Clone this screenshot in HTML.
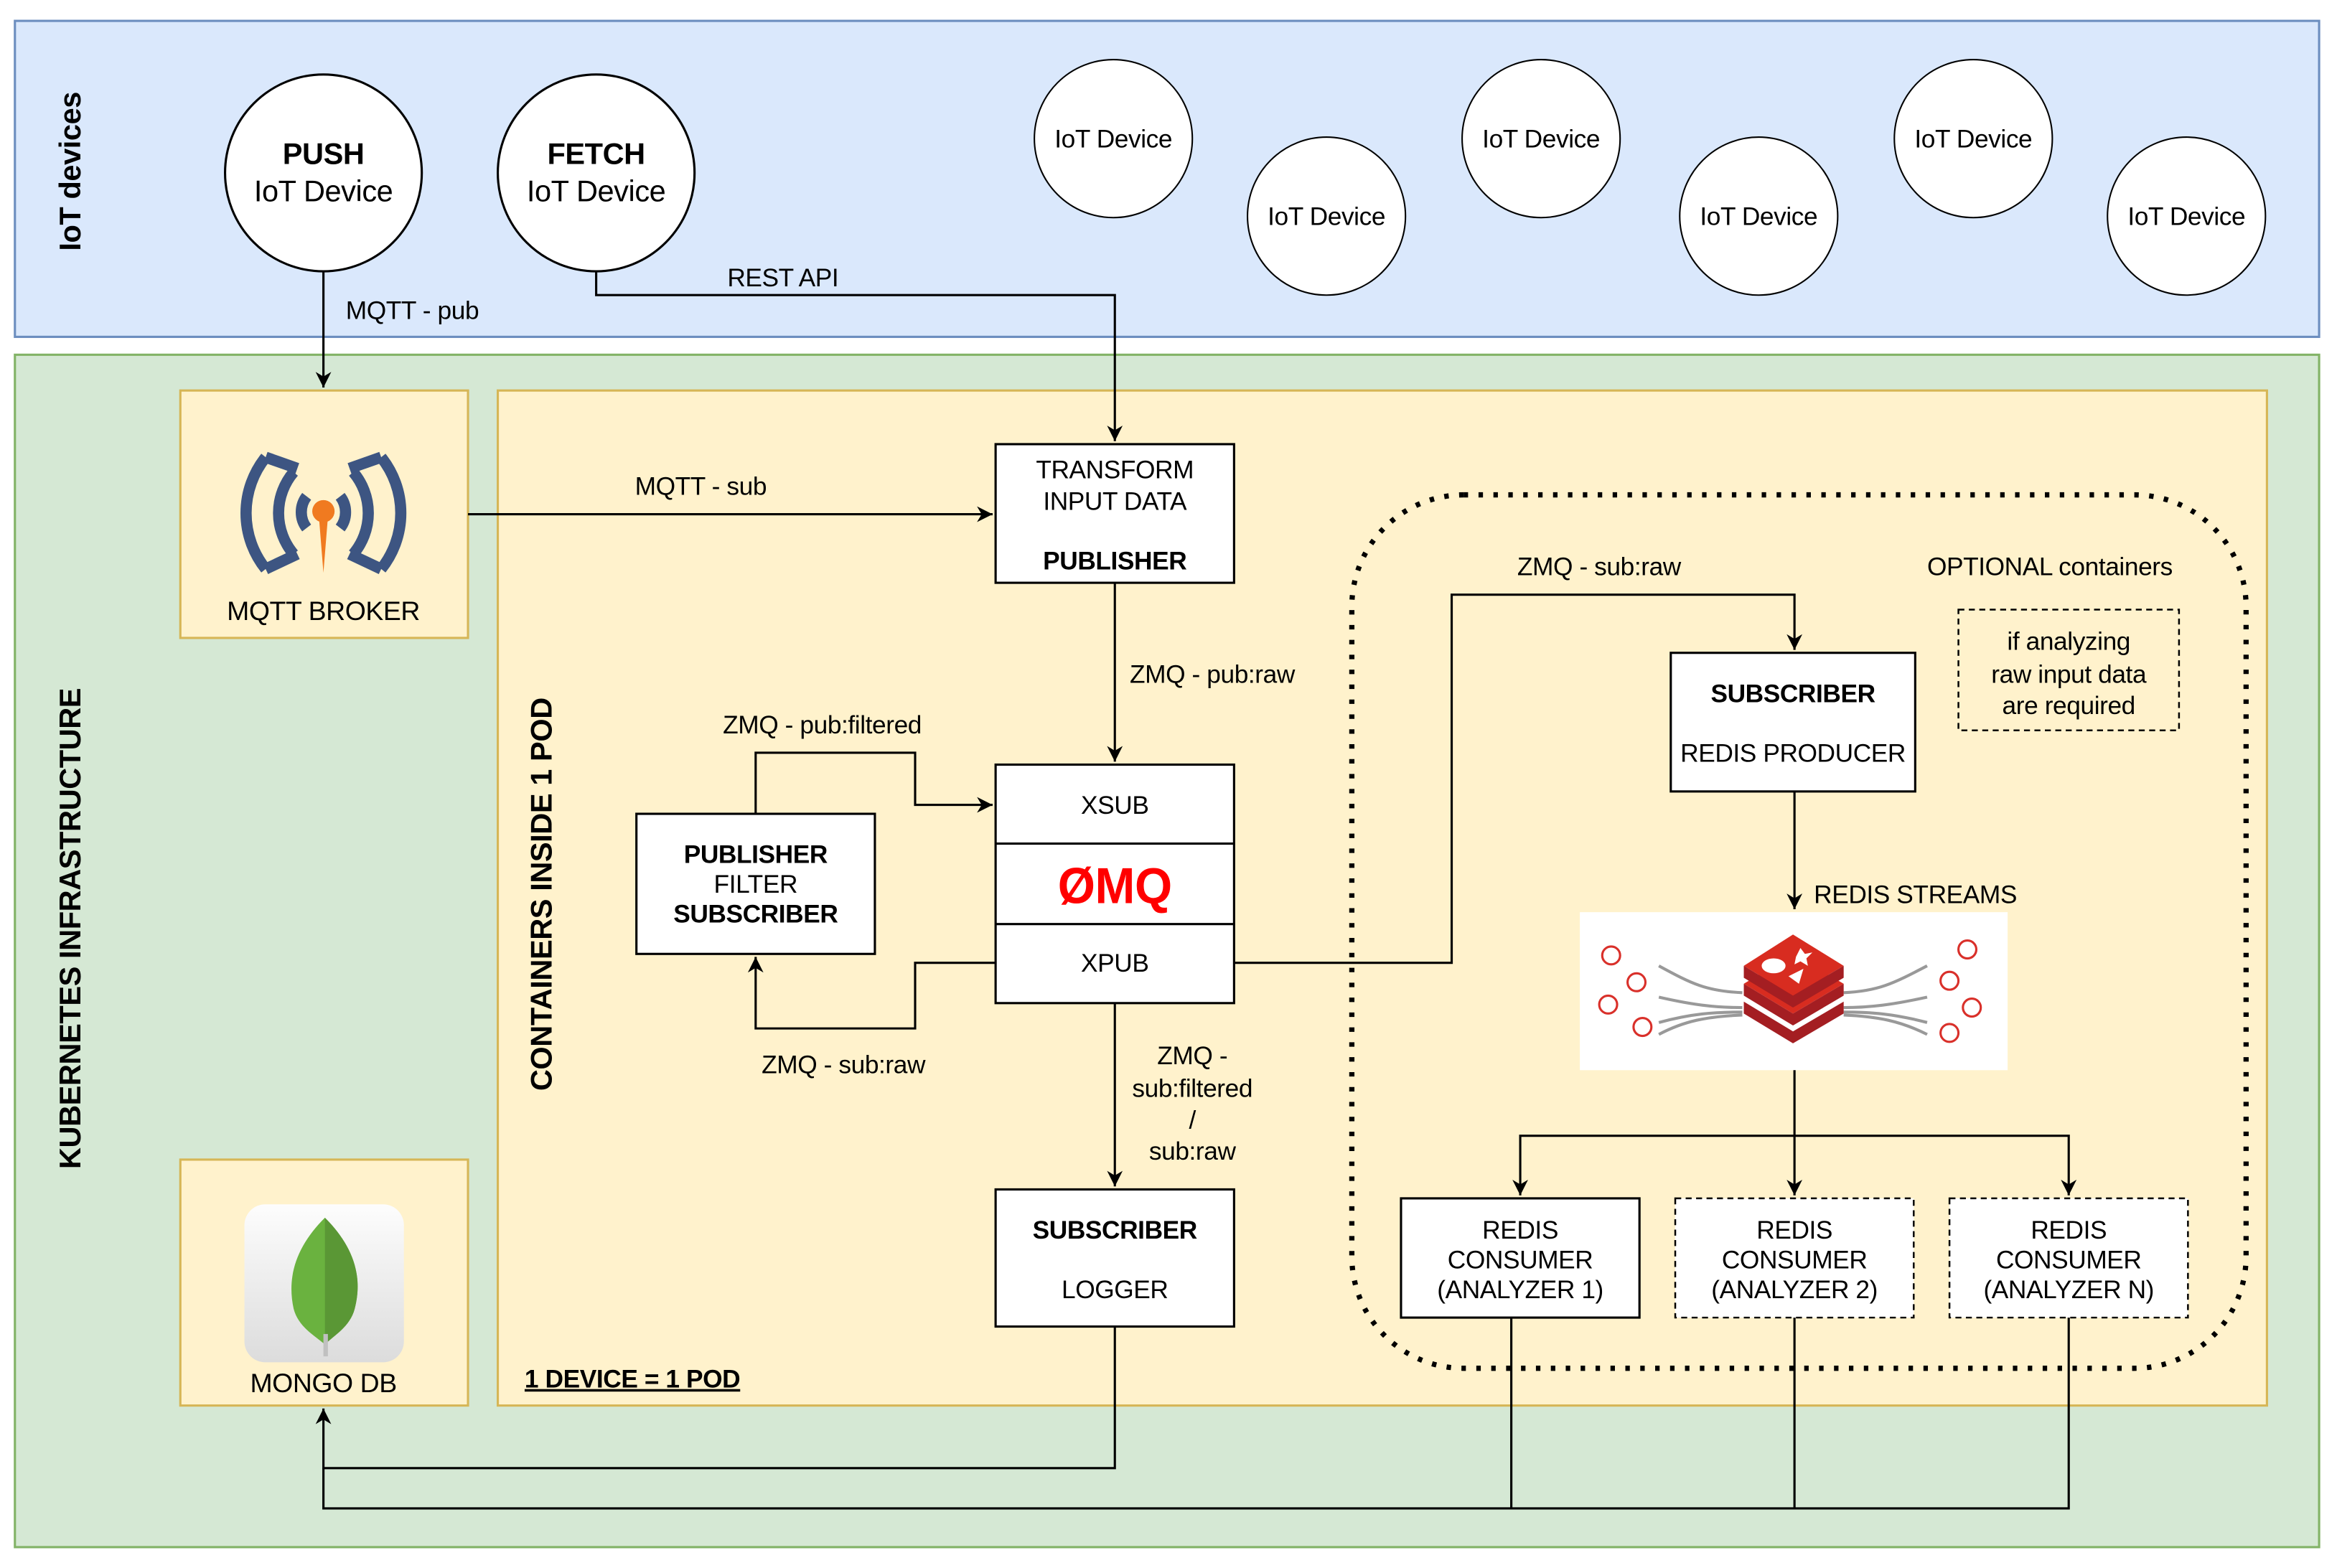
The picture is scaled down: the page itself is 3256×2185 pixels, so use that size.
<!DOCTYPE html>
<html><head><meta charset="utf-8"><style>
html,body{margin:0;padding:0;background:#fff}
svg{display:block}
text{font-family:"Liberation Sans",sans-serif;fill:#000;letter-spacing:-0.2px}
</style></head><body>
<svg width="3256" height="2185" viewBox="0 0 1568 1052" preserveAspectRatio="none" xmlns="http://www.w3.org/2000/svg">
<defs>
<marker id="a" viewBox="0 0 10 10" refX="10" refY="5" markerWidth="7" markerHeight="7" orient="auto-start-reverse"><path d="M0,0 L10,5 L0,10 L3,5 z" fill="#000"/></marker>
<linearGradient id="mg" x1="0" y1="0" x2="0" y2="1"><stop offset="0" stop-color="#fdfdfd"/><stop offset="1" stop-color="#dcdcdc"/></linearGradient>
</defs>
<rect width="1568" height="1052" fill="#fff"/>
<!-- IoT band -->
<rect x="10" y="14" width="1546" height="212" fill="#dae8fc" stroke="#6c8ebf" stroke-width="1.5"/>
<text transform="translate(54,115) rotate(-90)" text-anchor="middle" font-size="20" font-weight="bold">IoT devices</text>
<circle cx="217" cy="116" r="66" fill="#fff" stroke="#000" stroke-width="1.5"/>
<text x="217" y="110" text-anchor="middle" font-size="20" font-weight="bold">PUSH</text>
<text x="217" y="135" text-anchor="middle" font-size="20">IoT Device</text>
<circle cx="400" cy="116" r="66" fill="#fff" stroke="#000" stroke-width="1.5"/>
<text x="400" y="110" text-anchor="middle" font-size="20" font-weight="bold">FETCH</text>
<text x="400" y="135" text-anchor="middle" font-size="20">IoT Device</text>
<g font-size="17" text-anchor="middle">
<circle cx="747" cy="93" r="53" fill="#fff" stroke="#000"/><text x="747" y="99">IoT Device</text>
<circle cx="890" cy="145" r="53" fill="#fff" stroke="#000"/><text x="890" y="151">IoT Device</text>
<circle cx="1034" cy="93" r="53" fill="#fff" stroke="#000"/><text x="1034" y="99">IoT Device</text>
<circle cx="1180" cy="145" r="53" fill="#fff" stroke="#000"/><text x="1180" y="151">IoT Device</text>
<circle cx="1324" cy="93" r="53" fill="#fff" stroke="#000"/><text x="1324" y="99">IoT Device</text>
<circle cx="1467" cy="145" r="53" fill="#fff" stroke="#000"/><text x="1467" y="151">IoT Device</text>
</g>
<!-- K8s -->
<rect x="10" y="238" width="1546" height="800" fill="#d5e8d4" stroke="#82b366" stroke-width="1.5"/>
<text transform="translate(54,623) rotate(-90)" text-anchor="middle" font-size="20" font-weight="bold">KUBERNETES INFRASTRUCTURE</text>
<rect x="121" y="262" width="193" height="166" fill="#fff2cc" stroke="#d6b656" stroke-width="1.5"/>
<rect x="121" y="778" width="193" height="165" fill="#fff2cc" stroke="#d6b656" stroke-width="1.5"/>
<rect x="334" y="262" width="1187" height="681" fill="#fff2cc" stroke="#d6b656" stroke-width="1.5"/>
<text transform="translate(370,600) rotate(-90)" text-anchor="middle" font-size="20" font-weight="bold">CONTAINERS INSIDE 1 POD</text>
<text x="352" y="931" font-size="17" font-weight="bold" text-decoration="underline">1 DEVICE = 1 POD</text>
<!-- MQTT icon -->
<g transform="translate(217,343) scale(1.25) translate(-217,-343)">
<g fill="none" stroke="#3d5582" stroke-width="6">
<path d="M186,314 A48,48 0 0 0 186,374"/><path d="M201,322 A34,34 0 0 0 201,366"/><path d="M203,320 L186,314"/><path d="M186,374 L203,366"/>
<path d="M208,335 A14,14 0 0 0 208,352"/>
<path d="M248,314 A48,48 0 0 1 248,374"/><path d="M233,322 A34,34 0 0 1 233,366"/><path d="M231,320 L248,314"/><path d="M248,374 L231,366"/>
<path d="M226,335 A14,14 0 0 1 226,352"/>
</g>
<circle cx="217" cy="343" r="6" fill="#f07a20"/><path d="M214.5,345 L219.5,345 L217,376 z" fill="#f07a20"/>
</g>
<text x="217" y="416" text-anchor="middle" font-size="18">MQTT BROKER</text>
<!-- Mongo icon -->
<rect x="164" y="808" width="107" height="106" rx="14" fill="url(#mg)"/>
<path d="M218,817 C236,835 244,855 238,878 C235,890 224,896 218,902 C211,896 200,890 197,878 C192,855 200,835 218,817 z" fill="#6ab23f"/>
<path d="M218,817 C236,835 244,855 238,878 C235,890 224,896 218,902 z" fill="#5a9735"/>
<rect x="217" y="895" width="3" height="15" fill="#c0c0c0"/>
<text x="217" y="934" text-anchor="middle" font-size="18">MONGO DB</text>
<!-- Optional dotted -->
<rect x="907" y="332" width="600" height="586" rx="75" fill="none" stroke="#000" stroke-width="3.5" stroke-dasharray="3,7"/>
<!-- boxes -->
<g fill="#fff" stroke="#000" stroke-width="1.5">
<rect x="668" y="298" width="160" height="93"/>
<rect x="668" y="513" width="160" height="160"/>
<rect x="427" y="546" width="160" height="94"/>
<rect x="668" y="798" width="160" height="92"/>
<rect x="1121" y="438" width="164" height="93"/>
<rect x="940" y="804" width="160" height="80"/>
</g>
<line x1="668" y1="566" x2="828" y2="566" stroke="#000" stroke-width="1.5"/>
<line x1="668" y1="620" x2="828" y2="620" stroke="#000" stroke-width="1.5"/>
<g fill="#fff" stroke="#000" stroke-width="1.2" stroke-dasharray="4,3">
<rect x="1124" y="804" width="160" height="80"/>
<rect x="1308" y="804" width="160" height="80"/>
<rect x="1314" y="409" width="148" height="81" fill="none"/>
</g>
<g font-size="17" text-anchor="middle">
<text x="748" y="321">TRANSFORM</text><text x="748" y="342">INPUT DATA</text>
<text x="748" y="382" font-weight="bold">PUBLISHER</text>
<text x="748" y="546">XSUB</text>
<text x="748" y="652">XPUB</text>
<text x="748" y="606" font-size="34" font-weight="bold" style="fill:#ff0000" transform="translate(748,0) scale(0.95,1) translate(-748,0)">ØMQ</text>
<text x="507" y="579" font-weight="bold">PUBLISHER</text>
<text x="507" y="599">FILTER</text>
<text x="507" y="619" font-weight="bold">SUBSCRIBER</text>
<text x="748" y="831" font-weight="bold">SUBSCRIBER</text>
<text x="748" y="871">LOGGER</text>
<text x="1203" y="471" font-weight="bold">SUBSCRIBER</text>
<text x="1203" y="511">REDIS PRODUCER</text>
<text x="1020" y="831">REDIS</text><text x="1020" y="851">CONSUMER</text><text x="1020" y="871">(ANALYZER 1)</text>
<text x="1204" y="831">REDIS</text><text x="1204" y="851">CONSUMER</text><text x="1204" y="871">(ANALYZER 2)</text>
<text x="1388" y="831">REDIS</text><text x="1388" y="851">CONSUMER</text><text x="1388" y="871">(ANALYZER N)</text>
<text x="1388" y="436">if analyzing</text><text x="1388" y="458">raw input data</text><text x="1388" y="479">are required</text>
</g>
<!-- redis image -->
<rect x="1060" y="612" width="287" height="106" fill="#fff"/>
<g fill="none" stroke="#d9302a" stroke-width="1.5">
<circle cx="1081" cy="641" r="6"/><circle cx="1098" cy="659" r="6"/><circle cx="1079" cy="674" r="6"/><circle cx="1102" cy="689" r="6"/>
<circle cx="1320" cy="637" r="6"/><circle cx="1308" cy="658" r="6"/><circle cx="1323" cy="676" r="6"/><circle cx="1308" cy="693" r="6"/>
</g>
<g fill="none" stroke="#999" stroke-width="2">
<path d="M1113,648 C1135,660 1145,665 1169,666"/><path d="M1113,669 C1135,674 1150,676 1169,676"/><path d="M1113,686 C1135,680 1150,679 1169,679"/><path d="M1113,694 C1130,685 1145,682 1169,681"/>
<path d="M1293,648 C1270,660 1260,665 1237,666"/><path d="M1293,669 C1270,674 1255,676 1237,676"/><path d="M1293,686 C1270,680 1255,679 1237,679"/><path d="M1293,694 C1275,685 1260,682 1237,681"/>
</g>
<path d="M1170,672 L1203,692 L1237,672 L1237,680 L1203,700 L1170,680 z" fill="#a41e22"/>
<path d="M1170,660 L1203,640 L1237,660 L1203,680 z" fill="#d82c20"/>
<path d="M1170,660 L1170,668 L1203,688 L1237,668 L1237,660 L1203,680 z" fill="#a41e22"/>
<path d="M1170,648 L1203,627 L1237,648 L1203,668 z" fill="#d82c20"/>
<path d="M1170,648 L1170,656 L1203,676 L1237,656 L1237,648 L1203,668 z" fill="#a41e22"/>
<ellipse cx="1190" cy="648" rx="8" ry="5" fill="#fff"/><path d="M1200,655 L1210,650 L1207,660 z" fill="#fff"/><path d="M1208,636 L1211,640 L1216,639 L1212,643 L1213,648 L1208,645 L1204,647 L1205,642 z" fill="#fff"/>
<text x="1217" y="606" font-size="17">REDIS STREAMS</text>
<!-- connectors -->
<g fill="none" stroke="#000" stroke-width="1.5">
<path d="M217,182 V260" marker-end="url(#a)"/>
<path d="M400,182 V198 H748 V296" marker-end="url(#a)"/>
<path d="M314,345 H666" marker-end="url(#a)"/>
<path d="M748,391 V511" marker-end="url(#a)"/>
<path d="M828,646 H974 V399 H1204 V436" marker-end="url(#a)"/>
<path d="M1204,531 V610" marker-end="url(#a)"/>
<path d="M1204,718 V802" marker-end="url(#a)"/>
<path d="M1204,762 H1020 V802" marker-end="url(#a)"/>
<path d="M1204,762 H1388 V802" marker-end="url(#a)"/>
<path d="M507,546 V505 H614 V540 H666" marker-end="url(#a)"/>
<path d="M668,646 H614 V690 H507 V642" marker-end="url(#a)"/>
<path d="M748,673 V796" marker-end="url(#a)"/>
<path d="M748,890 V985 H217 V945" marker-end="url(#a)"/>
<path d="M1014,884 V1012 H217 V985"/>
<path d="M1204,884 V1012"/>
<path d="M1388,884 V1012 H1014"/>
</g>
<g font-size="17">
<text x="232" y="214">MQTT - pub</text>
<text x="488" y="192">REST API</text>
<text x="426" y="332">MQTT - sub</text>
<text x="758" y="458">ZMQ - pub:raw</text>
<text x="485" y="492">ZMQ - pub:filtered</text>
<text x="511" y="720">ZMQ - sub:raw</text>
<text x="1018" y="386">ZMQ - sub:raw</text>
<text x="1293" y="386">OPTIONAL containers</text>
<text x="800" y="714" text-anchor="middle">ZMQ -</text>
<text x="800" y="736" text-anchor="middle">sub:filtered</text>
<text x="800" y="757" text-anchor="middle">/</text>
<text x="800" y="778" text-anchor="middle">sub:raw</text>
</g>
</svg>
</body></html>
